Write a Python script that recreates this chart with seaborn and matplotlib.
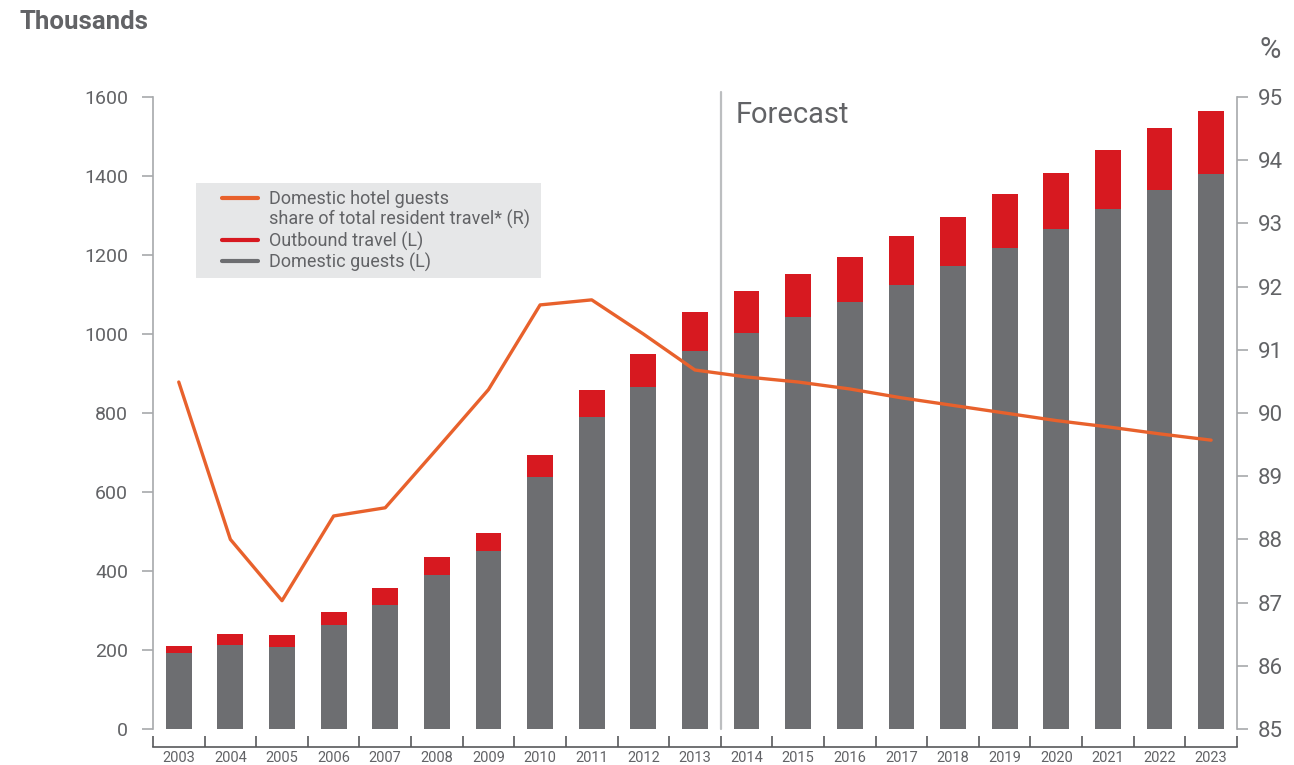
import numpy as np
import pandas as pd
import matplotlib
matplotlib.use("Agg")
import matplotlib.pyplot as plt
import seaborn as sns
from matplotlib.lines import Line2D
from matplotlib.patches import Rectangle
from matplotlib.ticker import FixedLocator

# ---- data (thousands of guests / % share) ----
years = [str(y) for y in range(2003, 2024)]
domestic = [192, 212, 207, 263, 314, 390, 450, 638, 790, 866, 957,
            1003, 1043, 1082, 1124, 1172, 1218, 1266, 1316, 1365, 1405]
outbound = [18, 28, 31, 33, 43, 45, 46, 56, 68, 83, 99,
            106, 109, 113, 124, 124, 136, 142, 150, 156, 160]
share = [90.49, 88.00, 87.03, 88.37, 88.50, 89.43, 90.37, 91.71, 91.79, 91.25, 90.68,
         90.57, 90.49, 90.38, 90.24, 90.12, 90.00, 89.88, 89.78, 89.67, 89.57]
left_ticks = [0, 200, 400, 600, 800, 1000, 1200, 1400, 1600]
right_ticks = [85, 86, 87, 88, 89, 90, 91, 92, 93, 94, 95]
forecast_from = "2014"

df = pd.DataFrame({"year": years, "domestic": domestic, "outbound": outbound, "share": share})
df["total"] = df["domestic"] + df["outbound"]

GRAY = "#6d6e71"
RED = "#d71920"
ORANGE = "#e8612c"
AXIS = "#a7a9ac"
TXT = "#626366"
LEG_BG = "#e6e7e8"

sns.set_theme(style="white")
plt.rcParams["font.family"] = ["Roboto", "DejaVu Sans"]

fig = plt.figure(figsize=(12.94, 7.65), dpi=100)
ax = fig.add_axes([0.1182, 0.0471, 0.8377, 0.8261])

# stacked bars: total (red) under domestic (gray)
sns.barplot(data=df, x="year", y="total", color=RED, saturation=1, width=0.5,
            errorbar=None, ax=ax, zorder=2, linewidth=0)
sns.barplot(data=df, x="year", y="domestic", color=GRAY, saturation=1, width=0.5,
            errorbar=None, ax=ax, zorder=3, linewidth=0)

n = len(years)
ax.set_xlim(-0.5, n - 0.5)
ax.set_ylim(0, 1600)
ax.set_xlabel("")
ax.set_ylabel("")

# left axis styling
for s in ["top", "right"]:
    ax.spines[s].set_visible(False)
ax.spines["left"].set_color(AXIS)
ax.spines["left"].set_linewidth(1.2)
ax.spines["bottom"].set_color("#58595b")
ax.spines["bottom"].set_linewidth(1.2)
ax.spines["bottom"].set_position(("outward", 13))
ax.set_yticks(left_ticks)
ax.set_yticklabels([str(t) for t in left_ticks])
ax.tick_params(axis="y", left=True, direction="out", length=8, width=1.2, color=AXIS,
               labelsize=14, labelcolor=TXT, pad=10)
ax.set_xticks(range(n))
ax.set_xticklabels(years)
ax.tick_params(axis="x", which="major", bottom=True, length=0, labelsize=10.5,
               labelcolor=TXT, pad=3)
ax.xaxis.set_minor_locator(FixedLocator(np.arange(-0.5, n, 1.0)))
ax.tick_params(axis="x", which="minor", bottom=True, direction="in", length=8,
               width=1.2, color="#58595b")

# forecast divider
fx = years.index(forecast_from) - 0.5
ax.axvline(fx, ymin=0, ymax=1.008, color="#bcbec0", lw=1.6, clip_on=False, zorder=1)
ax.text(fx + 0.28, 1554, "Forecast", fontsize=21, color=TXT, va="center", ha="left")

# right axis: share line
ax2 = ax.twinx()
sns.lineplot(x=np.arange(n), y=df["share"], color=ORANGE, lw=2.4, ax=ax2, zorder=5)
ax2.set_ylim(85, 95)
ax2.set_xlim(-0.5, n - 0.5)
ax2.set_ylabel("")
for s in ["top", "left", "bottom"]:
    ax2.spines[s].set_visible(False)
ax2.spines["right"].set_color(AXIS)
ax2.spines["right"].set_linewidth(1.2)
ax2.set_yticks(right_ticks)
ax2.set_yticklabels([str(t) for t in right_ticks])
ax2.tick_params(axis="y", right=True, direction="out", length=8, width=1.2, color=AXIS,
                labelsize=16, labelcolor=TXT, pad=7)

# legend with grey panel
ax2.add_patch(Rectangle((0.0397, 0.7136), 0.318, 0.150, transform=ax2.transAxes,
                        facecolor=LEG_BG, edgecolor="none", zorder=6))
handles = [Line2D([], [], color=ORANGE, lw=3),
           Line2D([], [], color="none", lw=3),
           Line2D([], [], color=RED, lw=3),
           Line2D([], [], color=GRAY, lw=3)]
labels = ["Domestic hotel guests", "share of total resident travel* (R)",
          "Outbound travel (L)", "Domestic guests (L)"]
leg = ax2.legend(handles, labels, loc="upper left", bbox_to_anchor=(0.0637, 0.853),
                 frameon=False, fontsize=13, handlelength=2.0, handletextpad=0.6,
                 labelspacing=0.12, borderpad=0, borderaxespad=0)
leg.set_zorder(7)
for t in leg.get_texts():
    t.set_color(TXT)

# axis titles
fig.text(20 / 1294, 1 - 22 / 765, "Thousands", fontsize=18.5, fontweight="bold",
         color=TXT, va="center", ha="left")
fig.text(1270 / 1294, 1 - 50 / 765, "%", fontsize=21, color=TXT, va="center", ha="center")

fig.savefig("out.png", dpi=100)
